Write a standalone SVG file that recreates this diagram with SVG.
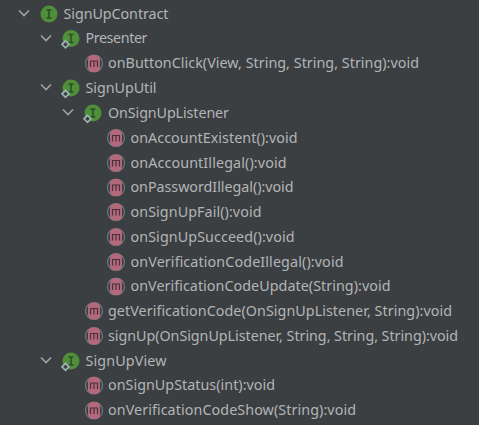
<svg xmlns="http://www.w3.org/2000/svg" width="479" height="425" viewBox="0 0 479 425">
<style>
text{font-family:"Noto Sans","Open Sans","Liberation Sans",sans-serif;font-size:14.3px;fill:#b2b5b7}
.c{fill:none;stroke:#a0a3a5;stroke-width:1.6}
</style>
<defs>
<g id="ii"><circle cx="0" cy="0" r="8.500" fill="#4f8f3a"/><path d="M-2.500-4H2.500M-2.500 4H2.500M0-4V4" stroke="#2f4a2a" stroke-width="1.500" fill="none"/></g>
<g id="in"><use href="#ii"/><path d="M-5.500 2.300L-2 5.800-5.500 9.300-9 5.800Z" fill="#3c3f41" stroke="#9cb2b3" stroke-width="1.700"/></g>
<g id="m"><circle cx="0" cy="0" r="8.500" fill="none" stroke="#6e7b83" stroke-width="1.200"/><rect x="-6" y="-8.500" width="12" height="17" rx="4.500" fill="#b3697b"/><path d="M-3.500 3.500V-2.500H3.500V3.500M0-2.500V3.500" fill="none" stroke="#4a3136" stroke-width="1.200"/></g>
<path id="v" d="M-5-2.500L0 2.500 5-2.500" class="c"/>
</defs>
<rect width="479" height="425" fill="#3c3f41"/>
<g id="connectors">
<use href="#v" x="24" y="13"/><use href="#v" x="46" y="38"/><use href="#v" x="46" y="87"/><use href="#v" x="68" y="112"/><use href="#v" x="46" y="360"/>
</g>
<g id="n1"><use href="#ii" x="49" y="14"/><text x="63.500" y="18.500" textLength="105">SignUpContract</text></g>
<g id="n2"><use href="#in" x="71" y="38.500"/><text x="85.500" y="43" textLength="62">Presenter</text></g>
<g id="n3"><use href="#m" x="94" y="63.500"/><text x="108" y="68" textLength="311">onButtonClick(View, String, String, String):void</text></g>
<g id="n4"><use href="#in" x="71" y="88"/><text x="85.500" y="92.500" textLength="71">SignUpUtil</text></g>
<g id="n5"><use href="#in" x="93" y="113"/><text x="108" y="117.500" textLength="121">OnSignUpListener</text></g>
<g id="n6"><use href="#m" x="116" y="138"/><text x="130.500" y="142.500" textLength="167">onAccountExistent():void</text></g>
<g id="n7"><use href="#m" x="116" y="163"/><text x="130.500" y="167.500" textLength="156">onAccountIllegal():void</text></g>
<g id="n8"><use href="#m" x="116" y="187.500"/><text x="130.500" y="192" textLength="163">onPasswordIllegal():void</text></g>
<g id="n9"><use href="#m" x="116" y="212"/><text x="130.500" y="216.500" textLength="131">onSignUpFail():void</text></g>
<g id="n10"><use href="#m" x="116" y="237"/><text x="130.500" y="241.500" textLength="164">onSignUpSucceed():void</text></g>
<g id="n11"><use href="#m" x="116" y="262"/><text x="130.500" y="266.500" textLength="213">onVerificationCodeIllegal():void</text></g>
<g id="n12"><use href="#m" x="116" y="286.500"/><text x="130.500" y="291" textLength="260">onVerificationCodeUpdate(String):void</text></g>
<g id="n13"><use href="#m" x="94" y="311"/><text x="108" y="315.500" textLength="344">getVerificationCode(OnSignUpListener, String):void</text></g>
<g id="n14"><use href="#m" x="94" y="336"/><text x="108" y="340.500" textLength="350">signUp(OnSignUpListener, String, String, String):void</text></g>
<g id="n15"><use href="#in" x="71" y="361"/><text x="85.500" y="365.500" textLength="81">SignUpView</text></g>
<g id="n16"><use href="#m" x="94" y="385.500"/><text x="108" y="390" textLength="167">onSignUpStatus(int):void</text></g>
<g id="n17"><use href="#m" x="94" y="410.500"/><text x="108" y="415" textLength="248">onVerificationCodeShow(String):void</text></g>
</svg>
